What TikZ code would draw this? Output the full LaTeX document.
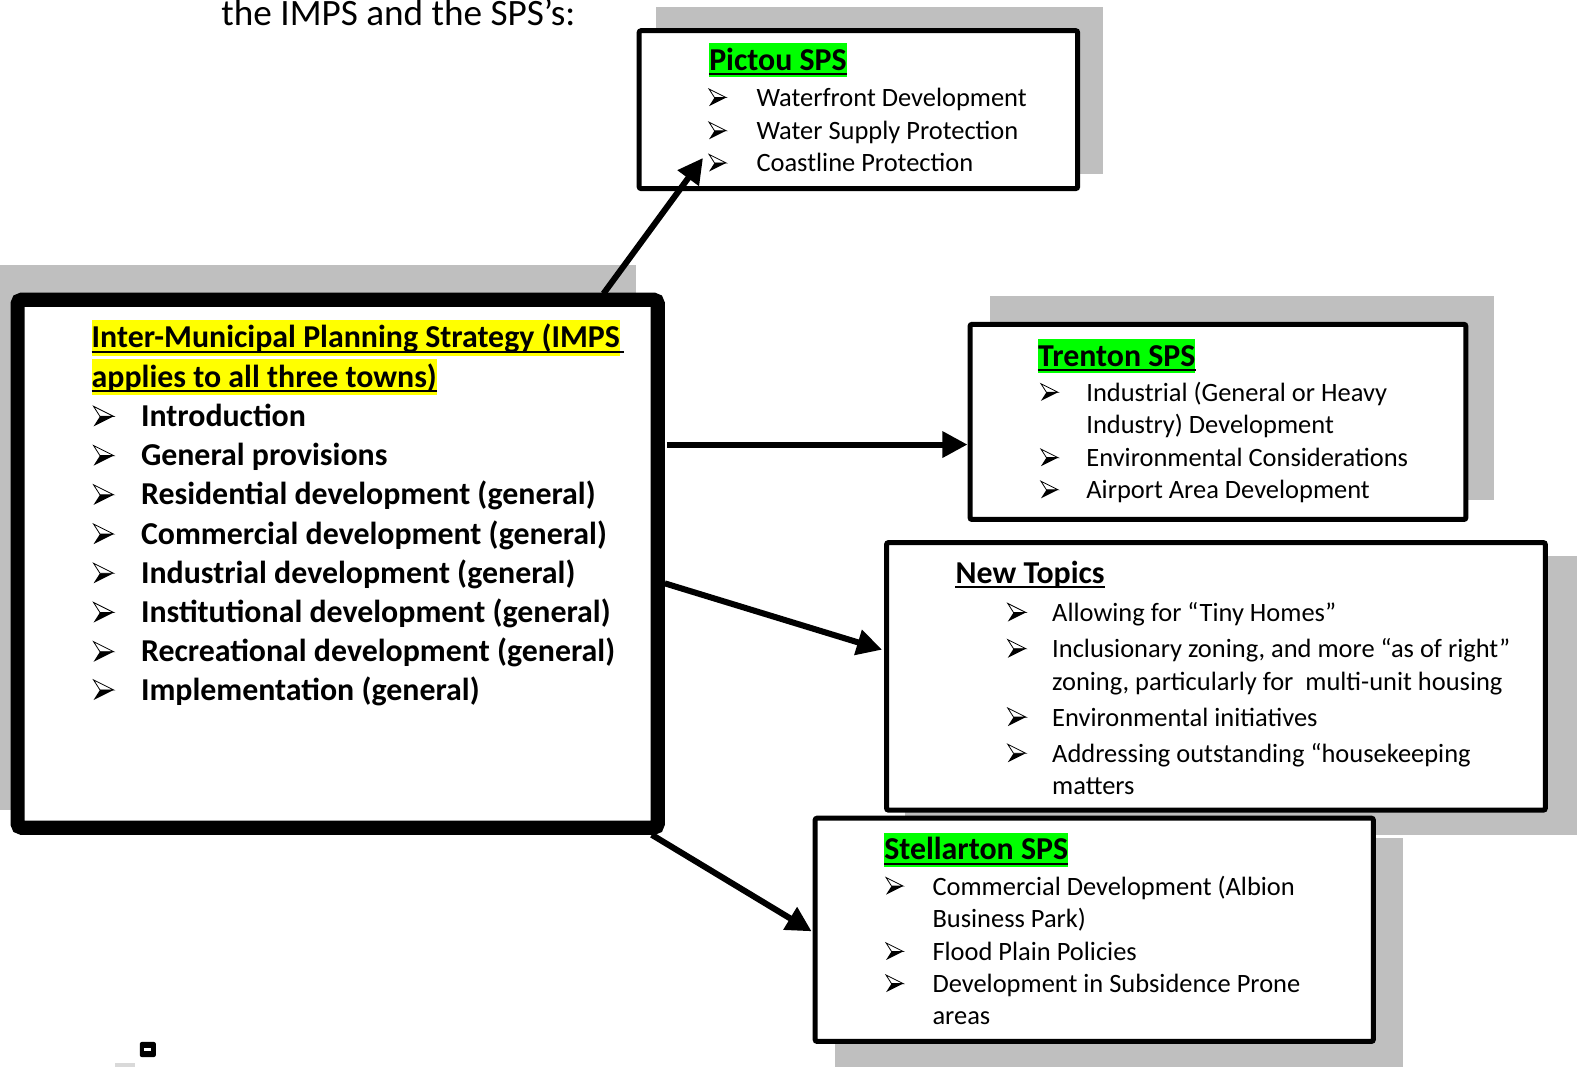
\documentclass[tikz,border=0pt]{standalone}
\usepackage{fontspec}
\setmainfont{Carlito}
\usetikzlibrary{arrows.meta,fit}
\definecolor{shadowgray}{HTML}{BFBFBF}
\definecolor{hlyellow}{HTML}{FFFF00}
\definecolor{hlgreen}{HTML}{00FF00}
\tikzset{
  shadowrect/.style={fill=shadowgray,draw=none},
  spsbox/.style={draw=black,line width=5pt,fill=white,rounded corners=2pt,inner sep=0pt},
  impsbox/.style={draw=black,line width=14pt,fill=white,rounded corners=4pt,inner sep=0pt},
  conn/.style={line width=6pt,-{Triangle[length=25pt,width=25pt]},shorten >=0pt},
  item/.style={anchor=base west,inner sep=0pt,font=\fontsize{26.3}{31}\selectfont},
  itemB/.style={anchor=base west,inner sep=0pt,font=\fontsize{31.7}{38}\selectfont\bfseries},
  ttl/.style={anchor=base west,inner xsep=0pt,inner ysep=0pt,text height=27pt,text depth=7pt,font=\fontsize{31.7}{38}\selectfont\bfseries},
  ttlB/.style={anchor=base west,inner xsep=0pt,inner ysep=0pt,text height=28pt,text depth=8pt,font=\fontsize{31.7}{38}\selectfont\bfseries},
  uline/.style={line width=2pt},
  bul/.pic={
    \filldraw[fill=white,draw=black,line width=0.8pt,line join=miter] (0,-0.5) -- (1,0) -- (0.32,0) -- cycle;
    \fill[black] (0.32,0) -- (1,0) -- (0,0.5) -- cycle;
  }
}
\begin{document}
\begin{tikzpicture}[x=1pt,y=-1pt]
\useasboundingbox (0,0) rectangle (1568,1061);
% heading
\node[anchor=base west,inner sep=0pt,font=\fontsize{37}{44}\selectfont] (head) at (220,25) {the IMPS and the SPS’s:};
% shadows
\fill[shadowgray] (0,263) rectangle (632,805);
\fill[shadowgray] (652,7) rectangle (1097,173);
\fill[shadowgray] (984,294) rectangle (1485,497);
% arrows start / end coordinates
\coordinate (a1s) at (600,292);
\coordinate (a2s) at (663,442);
\coordinate (a3s) at (661,580);
\coordinate (a4s) at (648,830);
% boxes
\node[impsbox,fit={(17.5,298) (654,823)}] (imps) {};
\node[spsbox,fit={(635.5,30.5) (1071.5,187.5)}] (pictou) {};
\node[spsbox,fit={(964.5,322.5) (1457.5,516.5)}] (trenton) {};
\fill[shadowgray] (900,553) rectangle (1568,830);
\node[spsbox,fit={(881.5,539.5) (1536.5,805.5)}] (newt) {};
\fill[shadowgray] (830,833) rectangle (1395,1061);
\node[spsbox,fit={(810.5,813.5) (1365.5,1035.5)}] (stel) {};
\coordinate (a1e) at (699,157);
\coordinate (a3e) at (877,646);
\coordinate (a4e) at (807,926);
% connectors
\draw[conn] (a1s) -- (a1e);
\draw[conn] (a2s) -- (trenton.west |- a2s);
\draw[conn] (a3s) -- (a3e);
\draw[conn] (a4s) -- (a4e);
% IMPS text
\node[ttlB,fill=hlyellow] (it1) at (91,346) {Inter-Municipal Planning Strategy (IMPS};
\draw[uline] ([yshift=-4pt]it1.base west) -- ([yshift=-4pt,xshift=4pt]it1.base east);
\node[ttlB,fill=hlyellow] (it2) at (91,385) {applies to all three towns)};
\draw[uline] ([yshift=-4pt]it2.base west) -- ([yshift=-4pt]it2.base east);
\foreach \y/\t [count=\i] in {424/Introduction,463/General provisions,502/Residential development (general),541/Commercial development (general),580/Industrial development (general),619/Institutional development (general),658/Recreational development (general),696/Implementation (general)}{
  \pic[scale=20] at (93,\y-10) {bul};
  \node[itemB] (im\i) at (140,\y) {\t};
}
% Pictou
\node[ttl,fill=hlgreen] (pt) at (705,70) {Pictou SPS};
\draw[uline] ([yshift=-4pt]pt.base west) -- ([yshift=-4pt]pt.base east);
\foreach \y/\t [count=\i] in {106/Waterfront Development,139/Water Supply Protection,171/Coastline Protection}{
  \pic[scale=17] at (705,\y-9) {bul};
  \node[item] (pi\i) at (752,\y) {\t};
}
% Trenton
\node[ttl,fill=hlgreen] (tt) at (1032,364) {Trenton SPS};
\draw[uline] ([yshift=-4pt]tt.base west) -- ([yshift=-4pt]tt.base east);
\pic[scale=17] at (1035,390) {bul};
\node[item] (tr1) at (1080,399) {Industrial (General or Heavy};
\node[item] (tr2) at (1080,431) {Industry) Development};
\pic[scale=17] at (1035,455) {bul};
\node[item] (tr3) at (1080,464) {Environmental Considerations};
\pic[scale=17] at (1035,487) {bul};
\node[item] (tr4) at (1080,496) {Airport Area Development};
% New Topics
\node[ttl] (nt) at (950,580) {New Topics};
\draw[uline] ([yshift=-4pt]nt.base west) -- ([yshift=-4pt]nt.base east);
\pic[scale=18] at (1002,609) {bul};
\node[item] (nt1) at (1046,618) {Allowing for “Tiny Homes”};
\pic[scale=18] at (1002,645) {bul};
\node[item] (nt2) at (1046,654) {Inclusionary zoning, and more “as of right”};
\node[item] (nt3) at (1046,687) {zoning, particularly for\ \ multi-unit housing};
\pic[scale=18] at (1002,713) {bul};
\node[item] (nt4) at (1046,722) {Environmental initiatives};
\pic[scale=18] at (1002,749) {bul};
\node[item] (nt5) at (1046,758) {Addressing outstanding “housekeeping};
\node[item] (nt6) at (1046,790) {matters};
% Stellarton
\node[ttl,fill=hlgreen] (st) at (879,855) {Stellarton SPS};
\draw[uline] ([yshift=-4pt]st.base west) -- ([yshift=-4pt]st.base east);
\pic[scale=17] at (881,881) {bul};
\node[item] (st1) at (927,890) {Commercial Development (Albion};
\node[item] (st2) at (927,922) {Business Park)};
\pic[scale=17] at (881,946) {bul};
\node[item] (st3) at (927,955) {Flood Plain Policies};
\pic[scale=17] at (881,978) {bul};
\node[item] (st4) at (927,987) {Development in Subsidence Prone};
\node[item] (st5) at (927,1019) {areas};
% small mark
\fill[black,rounded corners=2pt] (139,1036) rectangle (155,1051);
\fill[white] (143.5,1042) rectangle (150.5,1045);
\fill[black!15] (114,1057) rectangle (134,1061);
\end{tikzpicture}
\end{document}
